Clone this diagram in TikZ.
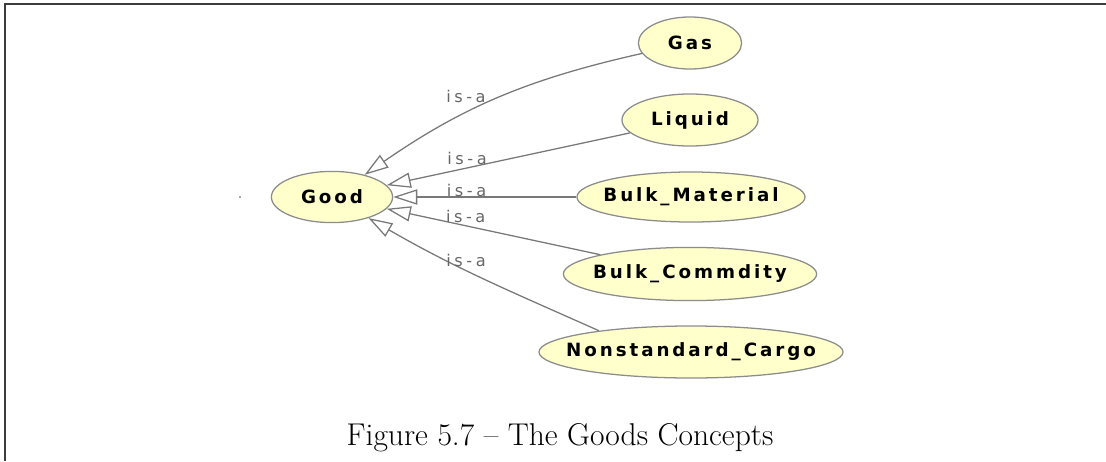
\documentclass[tikz,border=0pt]{standalone}
\usepackage{fontspec}
\usepackage{xcolor}
\usetikzlibrary{shapes.geometric,arrows.meta}
\newfontfamily\conceptfont[LetterSpace=16]{DejaVu Sans}
\newfontfamily\isafont[LetterSpace=22]{DejaVu Sans}
\definecolor{conceptFill}{RGB}{255,255,204}
\definecolor{conceptLine}{RGB}{140,140,140}
\definecolor{isaColor}{RGB}{120,120,120}
\definecolor{frameColor}{RGB}{60,60,60}
\newcommand{\cname}[1]{\makebox[0pt]{#1}}

\begin{document}
\begin{tikzpicture}[x=0.025cm, y=-0.025cm,
    concept/.style={ellipse, draw=conceptLine, fill=conceptFill, line width=0.9pt, inner sep=0pt, minimum height=1.3cm, font=\conceptfont\bfseries\fontsize{13}{15}\selectfont},
    isa/.style={draw=isaColor, line width=0.9pt, -{Triangle[open, length=0.6cm, width=0.38cm]}},
    isalabel/.style={text=isaColor!85!black, font=\isafont\fontsize{11.5}{13}\selectfont, inner sep=0pt}]
    \useasboundingbox (0,0) rectangle (1106,461);
    % frame
    \draw[frameColor, line width=0.8pt] (1106,4) -- (5,4) -- (5,461);
    % concepts
    \node[concept, minimum width=3.03cm, minimum height=1.28cm] (good) at (332,197) {\cname{Good}};
    \node[concept, minimum width=2.58cm] (gas) at (690,43) {\cname{Gas}};
    \node[concept, minimum width=3.4cm] (liquid) at (690,120) {\cname{Liquid}};
    \node[concept, minimum width=5.7cm, minimum height=1.25cm] (bulkmat) at (691,197) {\cname{Bulk\_Material}};
    \node[concept, minimum width=6.33cm, minimum height=1.33cm] (bulkcom) at (690,274) {\cname{Bulk\_Commdity}};
    \node[concept, minimum width=7.6cm] (cargo) at (691,352) {\cname{Nonstandard\_Cargo}};
    \fill[isaColor!60!black] (240,197) circle (0.6pt);
    % is-a links
    \draw[isa] (gas) to[bend right=11] node[isalabel, pos=0.54, anchor=south east] {is-a} (good);
    \draw[isa] (liquid) -- node[isalabel, pos=0.67, above=2pt] {is-a} (good);
    \draw[isa] (bulkmat) -- node[isalabel, pos=0.6, above=0pt] {is-a} (good);
    \draw[isa] (bulkcom) -- node[isalabel, pos=0.63, above=2pt] {is-a} (good);
    \draw[isa] (cargo.167) to[out=156, in=330] node[isalabel, pos=0.67, anchor=west] {is-a} (good);
    % caption
    \node[font=\fontsize{22.4}{27}\selectfont, inner sep=0pt, anchor=base] (caption) at (560,445) {Figure 5.7 -- The Goods Concepts};
\end{tikzpicture}
\end{document}
